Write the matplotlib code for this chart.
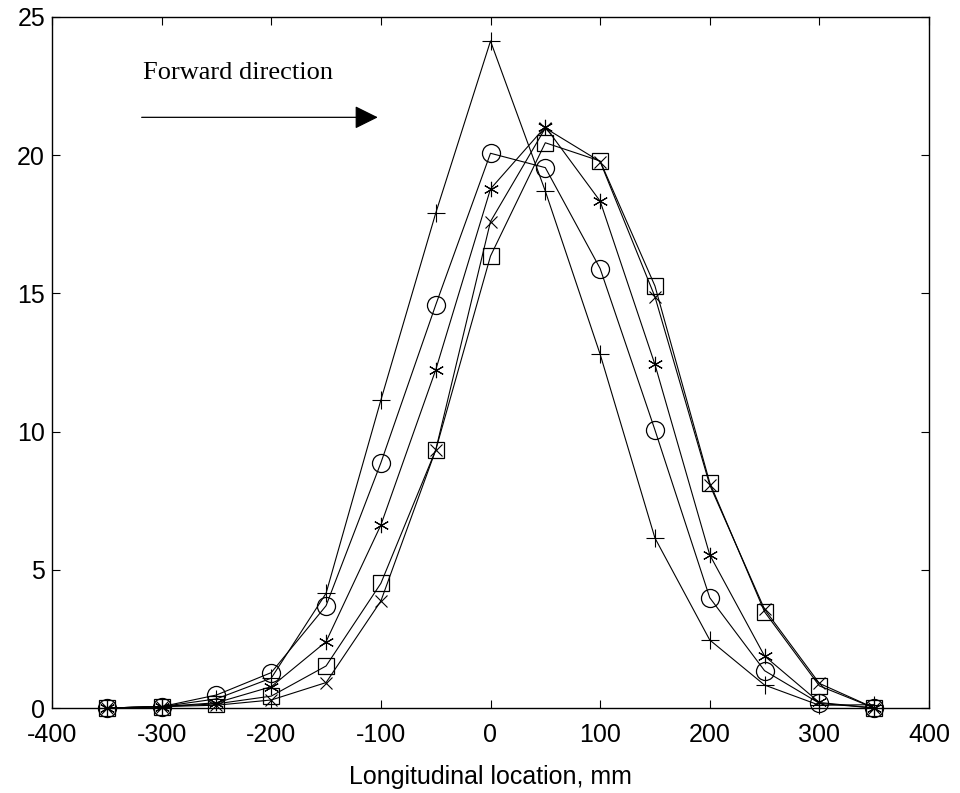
import matplotlib
matplotlib.use("Agg")
import matplotlib.pyplot as plt

x = [-350, -300, -250, -200, -150, -100, -50, 0, 50, 100, 150, 200, 250, 300, 350]
plus_vals = [0.0, 0.05, 0.33, 1.08, 4.15, 11.14, 17.9, 24.13, 18.7, 12.8, 6.15, 2.46, 0.83, 0.1, 0.12]
circle_vals = [0.0, 0.05, 0.47, 1.28, 3.7, 8.87, 14.58, 20.07, 19.55, 15.9, 10.06, 3.99, 1.35, 0.17, 0.0]
star_vals = [0.0, 0.05, 0.19, 0.77, 2.4, 6.62, 12.23, 18.78, 21.03, 18.34, 12.43, 5.54, 1.88, 0.2, 0.0]
cross_vals = [0.0, 0.05, 0.1, 0.29, 0.92, 3.87, 9.33, 17.6, 20.98, 19.77, 14.88, 8.07, 3.57, 0.89, 0.0]
square_vals = [0.0, 0.05, 0.15, 0.43, 1.52, 4.51, 9.33, 16.35, 20.45, 19.79, 15.27, 8.15, 3.48, 0.8, 0.0]

xticks = [-400, -300, -200, -100, 0, 100, 200, 300, 400]
yticks = [0, 5, 10, 15, 20, 25]
xlabel = "Longitudinal location, mm"
annot = "Forward direction"

plt.rcParams['font.family'] = ['Liberation Sans', 'DejaVu Sans']
fig = plt.figure(figsize=(9.6, 7.93), dpi=100)
ax = fig.add_axes([52/960, 1-708/793, (929-52)/960, (708-17)/793])

lw = 0.8
ms = 13
ax.plot(x, plus_vals, color='black', lw=lw, marker='+', ms=ms, mew=0.8, clip_on=False)
ax.plot(x, circle_vals, color='black', lw=lw, marker='o', ms=ms, mew=0.9, mfc='none', clip_on=False)
ax.plot(x, star_vals, color='black', lw=lw, marker=(6, 2, 0), ms=ms-2, mew=0.8, clip_on=False)
ax.plot(x, cross_vals, color='black', lw=lw, marker='x', ms=ms-5, mew=0.8, clip_on=False)
ax.plot(x, square_vals, color='black', lw=lw, marker='s', ms=ms-1, mew=0.9, mfc='none', clip_on=False)

ax.set_xlim(-400, 400)
ax.set_ylim(0, 25)
ax.set_xticks(xticks)
ax.set_yticks(yticks)
ax.set_xticklabels([str(t) for t in xticks])
ax.set_yticklabels([str(t) for t in yticks])
ax.tick_params(direction='in', top=True, right=True, length=6, width=0.8,
               labelsize=18)
ax.tick_params(axis='x', pad=11)
ax.tick_params(axis='y', pad=5)
for s in ax.spines.values():
    s.set_linewidth(1.0)
ax.set_xlabel(xlabel, fontsize=18, labelpad=13)

ax.text(-317, 22.76, annot, fontsize=19, family=['Liberation Serif'],
        ha='left', va='baseline')
ax.annotate('', xy=(-102.8, 21.37), xytext=(-318.2, 21.37),
            arrowprops=dict(arrowstyle='-|>,head_length=1.45,head_width=0.72',
                            color='black', lw=0.9, shrinkA=0, shrinkB=0))

fig.savefig('out.png', dpi=100)
